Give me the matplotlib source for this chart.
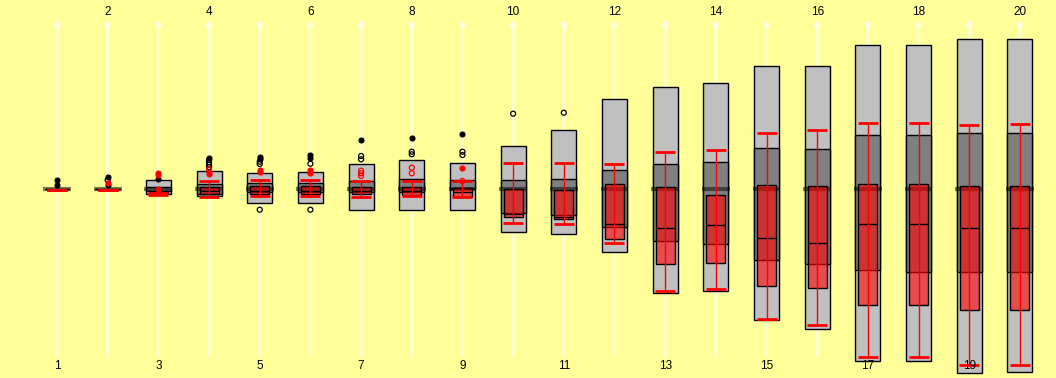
import matplotlib
matplotlib.use("Agg")
import matplotlib.pyplot as plt
import numpy as np

# positions 1..20, values measured upward from the common baseline (0)
pos = np.arange(1, 21)

outer_hi = [0, 0, 8.7, 17.7, 15.7, 16.7, 24.7, 28.7, 25.7, 42.7,
            58.7, 89.7, 101.7, 105.7, 122.7, 122.7, 143.7, 143.7, 149.7, 149.7]
outer_lo = [0, 0, -5.3, -7.3, -14.3, -14.3, -21.3, -21.3, -21.3, -43.3,
            -44.7, -63.3, -104.3, -102, -131.3, -140.3, -172.3, -172.3, -184.3, -183.3]

inner_hi = [0, 0, 2, 4.7, 5.7, 5.7, 8, 9.7, 9.3, 8.7,
            9.7, 18.7, 24.7, 26.7, 40.7, 39.7, 53.7, 53.7, 55.7, 55.7]
inner_lo = [0, 0, -2, -5, -2.7, -2.7, -2.7, -2.7, 0, -24.3,
            -25.7, -37.7, -52.3, -55.3, -71.3, -75.3, -81.3, -83.3, -83.3, -83.3]

red_hi = [-1, -1, -3, 1.7, 2.7, 2.7, 1.7, 1.7, 0.7, -0.3,
          -1.3, 4.7, 1.7, -6.3, 3.7, 2.7, 4.7, 4.7, 2.7, 2.7]
red_lo = [-1, -1, -5, -5, -5, -5, -5, -6, -7.7, -28.3,
          -29.7, -49.7, -75.3, -74.3, -97.3, -98.7, -116.3, -116.3, -121.3, -121.3]
red_med = [-1, -1, -4, -1.5, -1.5, -1.5, -1.5, -2, -3, -25.3,
           -27.7, -35.3, -39.3, -36.3, -49.3, -54.3, -35.3, -35.3, -39.3, -39.3]

err_hi = [-1, -1, -4, 8.3, 9.3, 9.3, 8.3, 8.3, 8.3, 26.3,
          26.3, 25.3, 37.3, 39, 56.3, 59, 66, 66, 64, 65]
err_lo = [-1, -1, -6, -7.7, -7, -7, -8, -7, -7.7, -33.7,
          -35, -53.7, -101.7, -99.7, -129.7, -136, -167.7, -167.7, -176, -176]

# outliers: black filled / black open / red filled / red open
blk_fill_x = [1, 1, 2, 2, 3, 4, 5, 5, 6, 6, 7, 8, 9]
blk_fill_y = [9, 4, 12.3, 3.7, 10, 31.3, 32.3, 30, 33.7, 31, 49.3, 51.3, 55.3]
blk_open_x = [2, 4, 4, 4, 4, 5, 5, 5, 6, 6, 7, 7, 8, 8, 9, 9, 10, 11]
blk_open_y = [9, 29, 26.7, 24.3, 22, 27.3, 25, -20.7, 25.3, -20.7,
              33, 29.7, 37.3, 34.7, 37.3, 34, 75.3, 76.3]
red_fill_x = [2, 3, 3, 3, 4, 4, 5, 5, 6, 6, 9]
red_fill_y = [6.3, 16, 13.7, 0, 17.3, 15.3, 19, 16.7, 19, 16, 20.7]
red_open_x = [4, 7, 7, 7, 8, 8, 9]
red_open_y = [19.7, 18.3, 15.7, 13, 21.3, 15.7, 8]

BG = "#FFFF99"
LIGHT = "#C0C0C0"
DARK = "#808080"


def main():
    fig = plt.figure(figsize=(10.56, 3.78), dpi=100, facecolor=BG)
    ax = fig.add_axes([0, 0, 1, 1])
    ax.set_facecolor(BG)
    ax.set_xlim(-0.1247, 20.712)
    ax.set_ylim(-189, 189)
    ax.axis("off")

    # pale guide arrows
    for p in pos:
        ax.annotate("", xy=(p, 170), xytext=(p, -167),
                    arrowprops=dict(arrowstyle="-|>", color="#FFFFF0",
                                    lw=2.0, mutation_scale=7, alpha=0.75,
                                    shrinkA=0, shrinkB=0), zorder=1)

    # labels: even on top, odd at bottom
    for p in pos:
        y = 177 if p % 2 == 0 else -177
        ax.text(p, y, str(p), ha="center", va="center", fontsize=8.5,
                family="Liberation Sans", color="black", zorder=10)

    oh, ol = np.array(outer_hi), np.array(outer_lo)
    ih, il = np.array(inner_hi), np.array(inner_lo)
    rh, rl = np.array(red_hi), np.array(red_lo)
    eh, el = np.array(err_hi), np.array(err_lo)

    ax.bar(pos, oh - ol, bottom=ol, width=0.493, color=LIGHT,
           edgecolor="black", lw=1.0, zorder=2)
    ax.bar(pos, ih - il, bottom=il, width=0.493, color=DARK,
           edgecolor="black", lw=1.0, zorder=3)
    ax.hlines(np.zeros(len(pos)), pos - 0.275, pos + 0.275,
              color="black", alpha=0.5, lw=3, zorder=4)
    ax.bar(pos, rh - rl, bottom=rl, width=0.375, color=(1, 0, 0, 0.6),
           edgecolor="black", lw=1.0, zorder=5)
    ax.hlines(red_med, pos - 0.1875, pos + 0.1875, color="black",
              lw=1.0, zorder=6)

    # red error bars
    ax.vlines(pos, el, eh, color="red", lw=1.0, zorder=7)
    ax.hlines(eh, pos - 0.197, pos + 0.197, color="red", lw=2.0, zorder=7)
    ax.hlines(el, pos - 0.197, pos + 0.197, color="red", lw=2.0, zorder=7)

    ms = 13
    ax.scatter(blk_fill_x, blk_fill_y, s=ms, color="black", lw=0.8,
               edgecolor="black", zorder=8)
    ax.scatter(blk_open_x, blk_open_y, s=ms, facecolor="none", lw=0.9,
               edgecolor="black", zorder=8)
    ax.scatter(red_fill_x, red_fill_y, s=ms, color="red", lw=0.8,
               edgecolor="red", zorder=8)
    ax.scatter(red_open_x, red_open_y, s=ms, facecolor="none", lw=0.9,
               edgecolor="red", zorder=8)

    fig.savefig("out.png", dpi=100, facecolor=BG)
    plt.close(fig)


if __name__ == "__main__":
    main()
